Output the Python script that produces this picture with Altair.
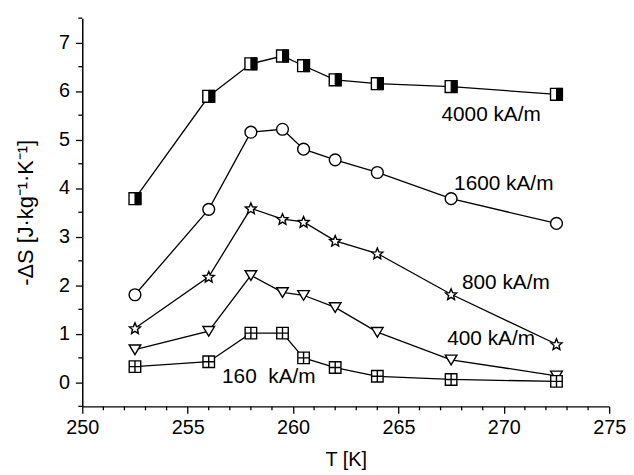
import math
import altair as alt
import pandas as pd

# ---- data ----
T = [252.5, 256, 258, 259.5, 260.5, 262, 264, 267.5, 272.5]
s4000 = [3.78, 5.89, 6.56, 6.72, 6.52, 6.23, 6.15, 6.09, 5.93]
s1600 = [1.80, 3.56, 5.15, 5.21, 4.80, 4.58, 4.32, 3.78, 3.27]
s800 = [1.11, 2.17, 3.58, 3.36, 3.30, 2.91, 2.65, 1.81, 0.78]
s400 = [0.67, 1.05, 2.20, 1.85, 1.79, 1.54, 1.03, 0.46, 0.13]
s160 = [0.32, 0.42, 1.01, 1.01, 0.50, 0.30, 0.12, 0.055, 0.015]

series_names = ["4000", "1600", "800", "400", "160"]
series_vals = [s4000, s1600, s800, s400, s160]

label_text = ["4000 kA/m", "1600 kA/m", "800 kA/m", "400 kA/m", "160\u00a0\u00a0kA/m"]
label_T = [269.4, 270.0, 270.1, 269.4, 258.85]
label_y = [5.50, 4.09, 2.05, 0.89, 0.10]

x_major = [250, 255, 260, 265, 270, 275]
x_minor = [v for v in range(250, 276) if v % 5 != 0]
y_major = [0, 1, 2, 3, 4, 5, 6, 7]
y_minor = [-0.5, 0.5, 1.5, 2.5, 3.5, 4.5, 5.5, 6.5, 7.5]

rows = []
for name, vals in zip(series_names, series_vals):
    for t, v in zip(T, vals):
        rows.append({"series": name, "T": t, "dS": v})
df = pd.DataFrame(rows)
labels_df = pd.DataFrame({"text": label_text, "T": label_T, "dS": label_y})
xminor_df = pd.DataFrame({"T": x_minor})
yminor_df = pd.DataFrame({"dS": y_minor})

# ---- marker shapes (unit box -1..1) ----
square_path = "M-1,-1L1,-1L1,1L-1,1Z"
half_path = "M0,-1L1,-1L1,1L0,1Z"
pts = []
for k in range(10):
    ang = math.radians(-90 + 36 * k)
    r = 1.0 if k % 2 == 0 else 0.45
    pts.append(f"{r * math.cos(ang):.3f},{r * math.sin(ang) + 0.08:.3f}")
star_path = "M" + "L".join(pts) + "Z"
tri_path = "M-1,-0.8L1,-0.8L0,0.86Z"
plus_path = "M-1,-1L1,-1L1,1L-1,1Z M0,-1L0,1 M-1,0L1,0"

shape_range = [square_path, "circle", star_path, tri_path, plus_path]
size_range = [144, 135, 240, 250, 156]

W, H = 532, 392

xscale = alt.Scale(domain=[250, 275], nice=False, zero=False)
yscale = alt.Scale(domain=[-0.5, 7.5], nice=False, zero=False)

xaxis = alt.Axis(title="T [K]", values=x_major, tickSize=7, labelPadding=4,
                 titlePadding=13, labelOverlap=False, labelFlush=False)
yaxis = alt.Axis(title="-\u0394S  [J\u00b7kg\u207b\u00b9\u00b7K\u207b\u00b9]", values=y_major,
                 tickSize=7, labelPadding=6, titlePadding=21, titleFontSize=22,
                 labelOverlap=False, labelFlush=False)

X = alt.X("T:Q", scale=xscale, axis=xaxis)
Y = alt.Y("dS:Q", scale=yscale, axis=yaxis)

base = alt.Chart(df)
lines = base.mark_line(color="black", strokeWidth=1.3).encode(
    x=X, y=Y, detail="series:N", order="T:Q"
)
points = base.mark_point(filled=True, fill="white", stroke="black", strokeWidth=1.4, opacity=1).encode(
    x=X, y=Y,
    shape=alt.Shape("series:N", scale=alt.Scale(domain=series_names, range=shape_range), legend=None),
    size=alt.Size("series:N", scale=alt.Scale(domain=series_names, range=size_range), legend=None),
)
half = base.transform_filter(alt.datum.series == "4000").mark_point(
    shape=half_path, filled=True, fill="black", stroke="black", strokeWidth=1, size=144, opacity=1
).encode(x=X, y=Y)

texts = alt.Chart(labels_df).mark_text(
    font="Liberation Sans", fontSize=21, color="black", align="center", baseline="middle"
).encode(x=X, y=Y, text="text:N")

xminor = alt.Chart(xminor_df).mark_rule(color="black", strokeWidth=1.3).encode(
    x=X, y=alt.value(H), y2=alt.value(H + 4)
)
yminor = alt.Chart(yminor_df).mark_rule(color="black", strokeWidth=1.3).encode(
    y=Y, x=alt.value(0), x2=alt.value(-4)
)

chart = alt.layer(lines, points, half, texts, xminor, yminor).properties(
    width=W, height=H,
    padding={"left": 6, "top": 7, "right": 0, "bottom": 0},
).configure_view(stroke=None).configure_axis(
    grid=False, domainColor="black", domainWidth=1.5, tickColor="black", tickWidth=1.3,
    labelFont="Liberation Sans", labelFontSize=20, labelColor="black",
    titleFont="Liberation Sans", titleFontSize=20, titleFontWeight="normal", titleColor="black",
)

chart.save("out.html", embed_options={"renderer": "svg", "actions": False})
